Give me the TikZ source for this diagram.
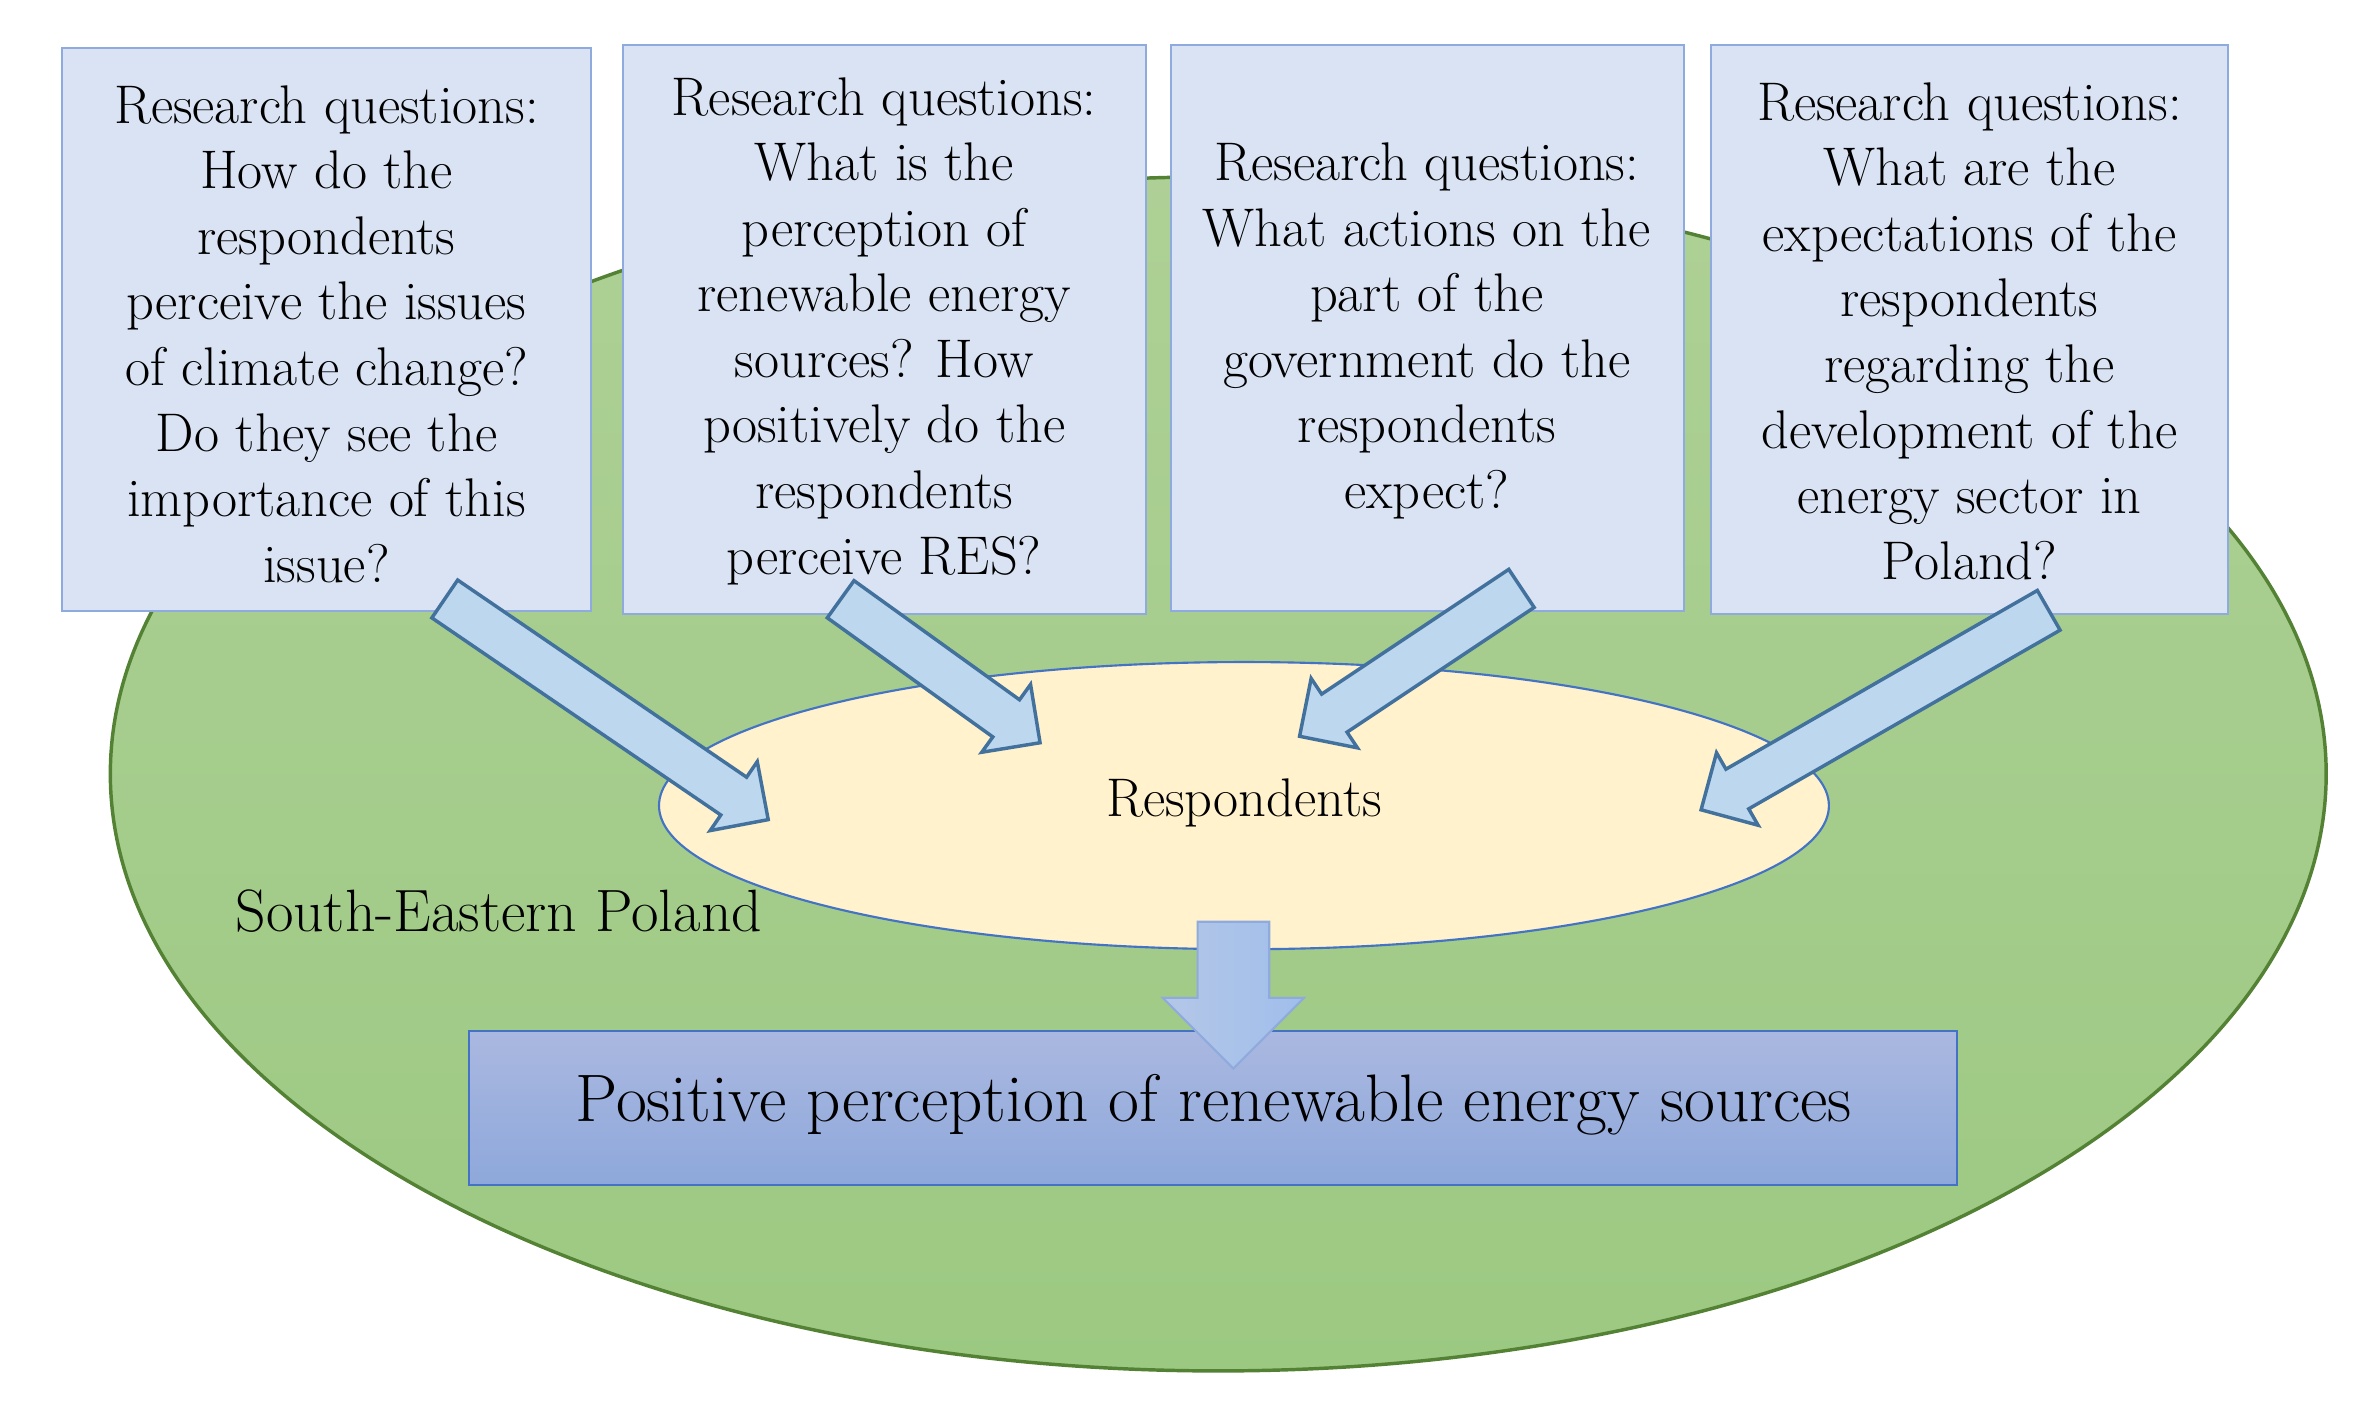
\documentclass[tikz,border=0pt]{standalone}
\usetikzlibrary{shapes.arrows,calc}
\newcommand\myblockarrow[3]{%
  \path let \p1=($(#2)-(#1)$), \n1={atan2(\y1,\x1)}, \n2={veclen(\x1,\y1)} in
    node[#3, rotate=\n1, minimum height=\n2] at ($(#1)!0.5!(#2)$) {};}
\begin{document}
\begin{tikzpicture}[x=0.02cm,y=-0.02cm,
  rq/.style={draw={rgb,255:red,143;green,170;blue,220}, fill={rgb,255:red,218;green,227;blue,243}, line width=0.8pt},
  rqt/.style={align=center, font=\fontsize{20.5}{24.7}\selectfont},
  barrow/.style={single arrow, draw={rgb,255:red,65;green,113;blue,156}, fill={rgb,255:red,189;green,215;blue,238}, line width=1.3pt, inner sep=0.28cm, single arrow head extend=0.25cm, single arrow head indent=0pt},
  darrow/.style={single arrow, inner sep=0.46cm, single arrow head extend=0.46cm, single arrow head indent=0pt, draw={rgb,255:red,143;green,170;blue,220}, line width=0.8pt, left color={rgb,255:red,180;green,199;blue,231}, right color={rgb,255:red,160;green,190;blue,235}}]
\useasboundingbox (0,0) rectangle (1568,930);
% green region
\shade[top color={rgb,255:red,174;green,208;blue,150}, bottom color={rgb,255:red,156;green,201;blue,130}, draw={rgb,255:red,84;green,130;blue,53}, line width=1.3pt] (806,512) ellipse [x radius=733, y radius=395];
% boxes
\draw[rq] (41,32) rectangle (391,404);
\node[rqt] (q1) at (216,221) {Research questions:\\How do the\\respondents\\perceive the issues\\of climate change?\\Do they see the\\importance of this\\issue?};
\draw[rq] (412,30) rectangle (758,406);
\node[rqt] (q2) at (585,219) {Research questions:\\What is the\\perception of\\renewable energy\\sources? How\\positively do the\\respondents\\perceive RES?};
\draw[rq] (775,30) rectangle (1114,404);
\node[rqt] (q3) at (944,219) {Research questions:\\What actions on the\\part of the\\government do the\\respondents\\expect?};
\draw[rq] (1132,30) rectangle (1474,406);
\node[rqt] (q4) at (1303,219) {Research questions:\\What are the\\expectations of the\\respondents\\regarding the\\development of the\\energy sector in\\Poland?};
% respondents
\draw[fill={rgb,255:red,255;green,242;blue,204}, draw={rgb,255:red,68;green,114;blue,196}, line width=0.8pt] (823,533) ellipse [x radius=387, y radius=95];
\node[font=\fontsize{20.5}{24}\selectfont] (resp) at (823,531) {Respondents};
\node[font=\fontsize{22.5}{27}\selectfont] (sep) at (330,603) {South-Eastern Poland};
% result box
\shade[top color={rgb,255:red,170;green,184;blue,224}, bottom color={rgb,255:red,142;green,168;blue,219}, draw={rgb,255:red,68;green,114;blue,196}, line width=0.8pt] (310,682) rectangle (1295,784);
\node[font=\fontsize{25.3}{30}\selectfont] (res) at (803,731) {Positive perception of renewable energy sources};
% block arrows
\coordinate (a1) at (288,392); \coordinate (b1) at (502,538);
\coordinate (a2) at (550,392); \coordinate (b2) at (682,487);
\coordinate (a3) at (1013,385); \coordinate (b3) at (866,483);
\coordinate (a4) at (1362,400); \coordinate (b4) at (1132,532);
\coordinate (a5) at (816,598); \coordinate (b5) at (816,695);
\myblockarrow{a1}{b1}{barrow}
\myblockarrow{a2}{b2}{barrow}
\myblockarrow{a3}{b3}{barrow}
\myblockarrow{a4}{b4}{barrow}
\myblockarrow{a5}{b5}{darrow}
\end{tikzpicture}
\end{document}
